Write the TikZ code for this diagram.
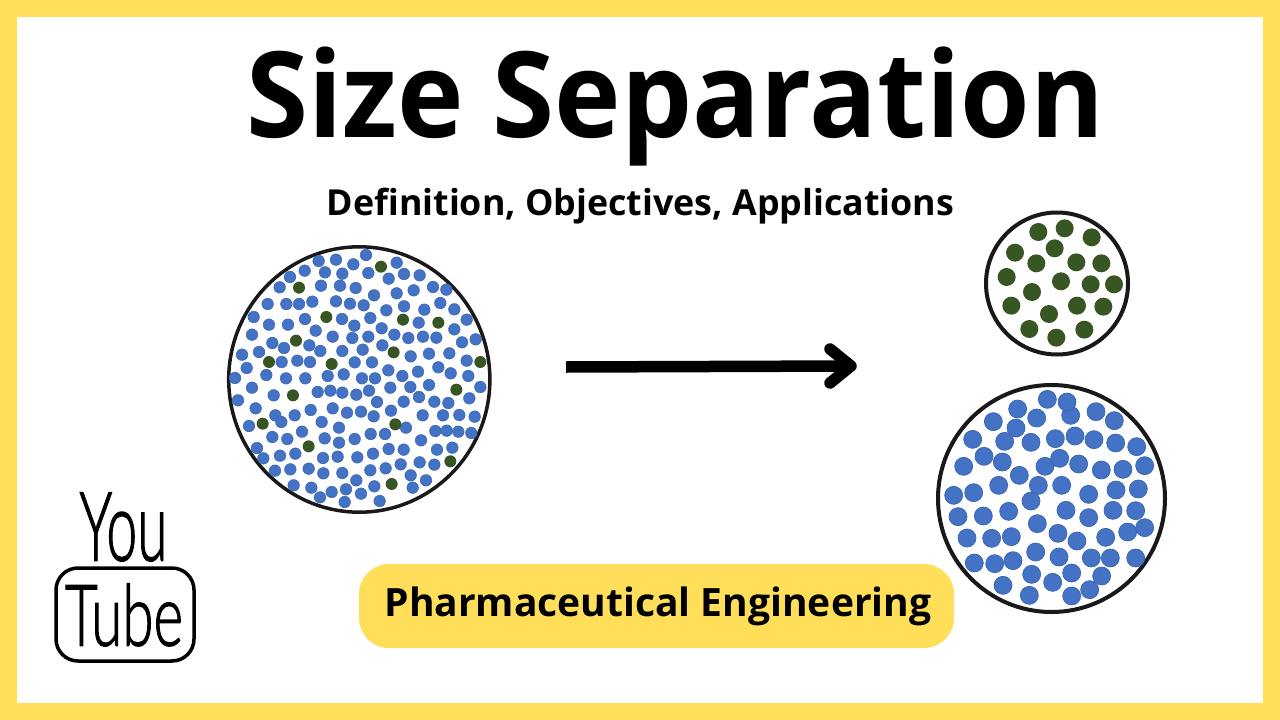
\documentclass[tikz,border=0pt]{standalone}
\usepackage{fontspec}
\usepackage{graphicx}
\setmainfont{Open Sans}
\newfontfamily\logofont[FakeBold=1.6]{Lato Light}
\usetikzlibrary{calc}
\definecolor{bandyellow}{HTML}{FFDE59}
\definecolor{dotblue}{HTML}{4472C4}
\definecolor{dotedge}{HTML}{3A65B0}
\definecolor{dotgreen}{HTML}{375623}
\tikzset{
  x=1pt,y=-1pt,
  ring/.style={draw=black!90,fill=white},
  smalldot/.style={fill=dotblue,draw=dotedge,line width=0.5pt},
  smallgreen/.style={fill=dotgreen},
  bigdot/.style={fill=dotblue,draw=dotedge,line width=0.7pt},
  biggreen/.style={fill=dotgreen},
  headline/.style={font=\bfseries\fontsize{112.5}{112.5}\selectfont,inner sep=0pt},
  subline/.style={font=\bfseries\fontsize{35.8}{35.8}\selectfont,inner sep=0pt},
  pilltext/.style={font=\bfseries\fontsize{39}{39}\selectfont,inner sep=0pt},
  arrowstroke/.style={line width=11.5pt,black},
}
\begin{document}
\begin{tikzpicture}
\useasboundingbox (0,0) rectangle (1280,720);
% page frame
\fill[bandyellow] (0,0) rectangle (1280,720);
\fill[white] (17,17) rectangle (1263,703);

% headings
\node[headline,anchor=base] (title) at (675,137) {\scalebox{1}[1.06]{Size Separation}};
\node[subline,anchor=base] (subtitle) at (640.5,215.5) {Definition, Objectives, Applications};

% course label
\node[fill=bandyellow,rounded corners=30pt,minimum width=595pt,minimum height=84pt,inner sep=0pt] (pill) at (656.5,606) {};
\node[pilltext,anchor=base] (course) at (658,616) {Pharmaceutical Engineering};

% mixture circle
\draw[ring,line width=3.5pt] (359.3,379.5) ellipse[x radius=130.6pt,y radius=132.7pt];
\begin{scope}[shift={(220pt,-240pt)},x=0.33333pt,y=-0.33333pt]
  \foreach \p in {(438,45),(348,59),(296,63),(400,73),(530,68),(254,92),(315,97),(367,101),(445,99),(552,102),(599,106),(210,111),(506,116),
    (179,142),(303,137),(360,137),(407,144),(462,166),(530,160),(581,151),(639,141),(679,149),
    (143,192),(199,192),(237,192),(277,185),(348,184),(390,191),(431,196),(552,199),(661,189),(499,211),(613,209),(703,208),
    (101,231),(147,254),(204,254),(255,237),(366,237),(403,257),(451,234),(596,248),(740,239),(703,268),
    (96,284),(287,272),(485,265),(338,290),(397,294),(445,290),(523,284),(565,294),(609,290),(649,293),(726,307),(767,298),
    (157,309),(192,324),(268,316),(487,316),(301,333),(367,333),(428,329),(117,336),(66,344),(572,349),(627,341),(688,340),
    (185,366),(232,362),(270,366),(404,367),(456,367),(740,362),(80,384),(655,382),(505,391),(594,395),(692,400),(139,405),(323,408),(371,403),
    (45,414),(198,415),(256,415),(426,415),(465,415),(547,408),(745,408)}
    \filldraw[smalldot] \p circle[radius=5.8pt];
  \foreach \p in {(483,80),(237,143),(319,231),(549,239),(655,248),(228,302),(521,337),(147,366),(335,372),(781,366)}
    \fill[smallgreen] \p circle[radius=6pt];
\end{scope}
\begin{scope}[shift={(220pt,-380pt)},x=0.33333pt,y=-0.33333pt]
  \foreach \p in {(96,23),(161,46),(293,36),(331,32),(367,38),(409,44),(447,32),(511,23),(571,21),(627,15),(781,21),
    (54,61),(471,66),(551,65),(597,51),(643,65),(685,69),(748,55),
    (107,85),(166,106),(224,106),(272,90),(338,85),(381,98),(423,95),(461,109),(513,92),(608,106),(669,106),(718,105),(764,110),
    (184,126),(87,138),(305,126),(357,143),(558,143),(646,153),(680,152),(715,155),(754,159),
    (246,155),(157,171),(202,177),(314,175),(357,188),(404,177),(452,162),(495,162),(603,181),
    (111,204),(130,235),(180,227),(226,221),(309,234),(353,230),(412,232),(459,221),(506,207),(551,209),(651,209),(697,203),
    (165,272),(211,268),(266,266),(310,280),(367,279),(451,271),(497,265),(542,253),(599,247),(643,254),(572,286),(618,301),
    (221,316),(274,323),(335,336),(378,328),(409,301),(463,319),(423,341),(578,323),(300,352),(374,366),(479,363)}
    \filldraw[smalldot] \p circle[radius=5.8pt];
  \foreach \p in {(219,46),(709,29),(128,131),(526,133),(266,199),(691,244),(515,312)}
    \fill[smallgreen] \p circle[radius=6pt];
\end{scope}

% separated fractions
\draw[ring,line width=4pt] (1057,283.5) circle[radius=71pt];
\begin{scope}[shift={(975pt,-205pt)},x=0.33333pt,y=-0.33333pt]
  \foreach \p in {(190,81),(269,70),(350,97),(239,130),(120,143),(184,175),(304,172),(379,175),(95,216),(258,229),(347,238),(417,238),(171,261),(109,302),(306,302),(385,305),(222,327),(163,372),(328,374),(244,398)}
    \fill[biggreen] \p circle[radius=9pt];
\end{scope}
\draw[ring,line width=4pt] (1051.5,498.5) circle[radius=113.5pt];
\begin{scope}[shift={(930pt,-380pt)},x=0.33333pt,y=-0.33333pt]
  \foreach \p in {(352,58),(422,106),(411,66),(263,87),(320,114),(498,95),(553,122),(190,125),(258,144),(128,178),(224,184),(303,187),(376,176),(435,168),(492,179),(557,189),(620,200),
    (162,229),(217,246),(101,259),(345,259),(389,235),(446,252),(514,270),(579,268),(644,257),(268,286),
    (206,316),(325,316),(395,316),(558,330),(625,327),(71,346),(131,338),(476,343),(303,363),
    (84,410),(160,408),(236,394),(408,391),(549,391),(617,392),(476,413),(322,431),(593,456),(644,443),
    (111,474),(185,475),(244,470),(384,460),(441,483),(527,472),
    (133,549),(194,551),(249,542),(317,516),(387,531),(484,534),(541,534),(617,534),
    (305,583),(425,579),(515,588),(219,616),(368,607),(298,646),(425,648),(479,629)}
    \filldraw[bigdot] \p circle[radius=9pt];
\end{scope}

% separation arrow
\coordinate (arrowstart) at (566,367);
\coordinate (arrowtip) at (851,366);
\draw[arrowstroke] (arrowstart) -- (arrowtip);
\draw[arrowstroke,line cap=round,line join=round] ($(arrowtip)+(-21,-17)$) -- (arrowtip) -- ($(arrowtip)+(-21,17)$);

% channel logo
\node[inner sep=0pt,anchor=center] (logotop) at (123.5,527) {\logofont\resizebox{88pt}{68pt}{You}};
\node[draw=black,line width=3.5pt,rounded corners=22pt,minimum width=138pt,minimum height=93pt,inner sep=0pt] (logobox) at (125,614.5) {};
\node[inner sep=0pt,anchor=center] (logobottom) at (124,615) {\logofont\resizebox{118pt}{62pt}{Tube}};
\end{tikzpicture}
\end{document}
